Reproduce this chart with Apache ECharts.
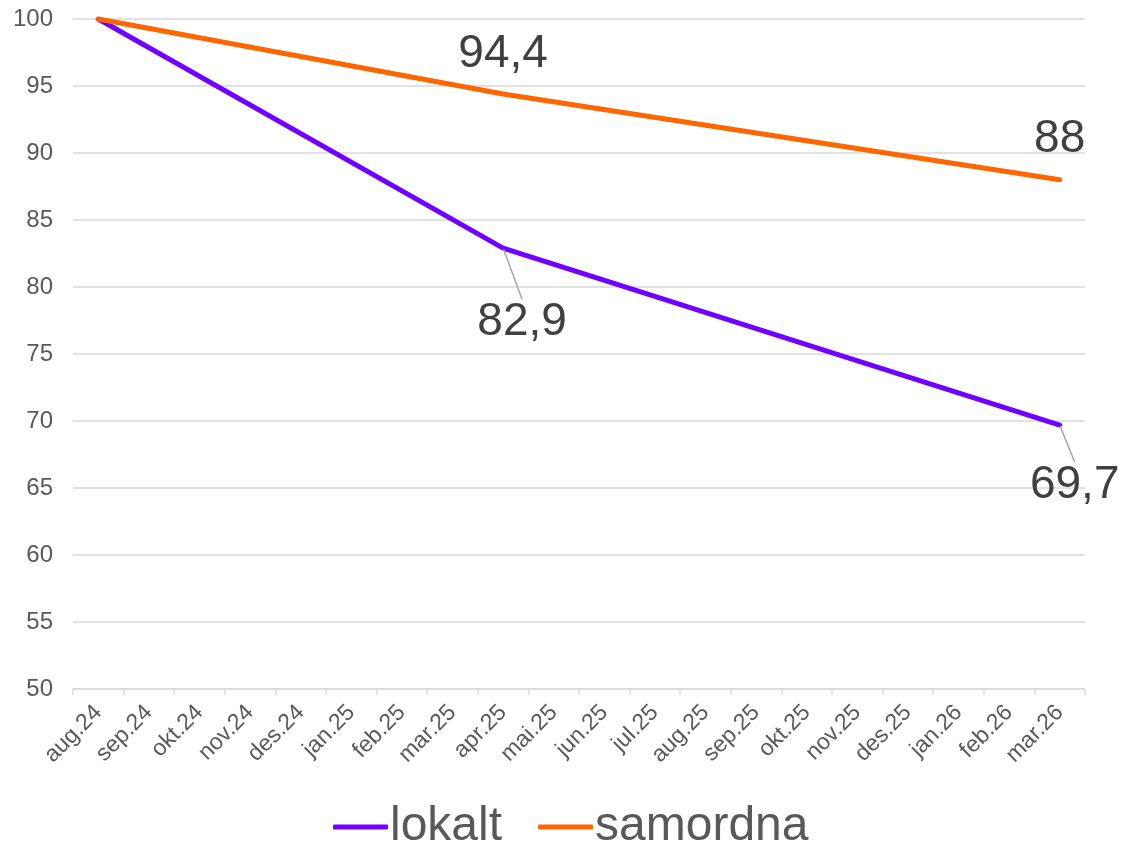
<!DOCTYPE html>
<html>
<head>
<meta charset="utf-8">
<script src="https://cdn.jsdelivr.net/npm/echarts@6/dist/echarts.min.js"></script>
<style>
  html, body { margin: 0; padding: 0; background: #fff; }
  #chart { width: 1122px; height: 850px; }
</style>
</head>
<body>
<div id="chart"></div>
<script>
    // kategorier (måneder)
    var months = ['aug.24', 'sep.24', 'okt.24', 'nov.24', 'des.24', 'jan.25', 'feb.25', 'mar.25', 'apr.25', 'mai.25',
        'jun.25', 'jul.25', 'aug.25', 'sep.25', 'okt.25', 'nov.25', 'des.25', 'jan.26', 'feb.26', 'mar.26'];
    // verdier, null der det ikke er punkt
    var lokalt = [100, null, null, null, null, null, null, null, 82.9, null,
        null, null, null, null, null, null, null, null, null, 69.7];
    var samordna = [100, null, null, null, null, null, null, null, 94.4, null,
        null, null, null, null, null, null, null, null, null, 88];
    var yTicks = [50, 55, 60, 65, 70, 75, 80, 85, 90, 95, 100];
    // hvilke punkter som får dataetikett
    var labelled = [8, 19];

    var fontName = '"Liberation Sans", Arial, sans-serif';

    function toItems(values) {
        return values.map(function (v, i) {
            if (v !== null && labelled.indexOf(i) !== -1) {
                return {value: v, label: {show: true}};
            }
            return v;
        });
    }

    function fmt(p) {
        return String(p.value).replace('.', ',');
    }

    var myChart = echarts.init(document.getElementById('chart'));
    myChart.setOption({
        animation: false,
        textStyle: {fontFamily: fontName},
        grid: {
            left: 73,
            right: 37,
            top: 19,
            bottom: 161
        },
        legend: {
            data: ['lokalt', 'samordna'],
            top: 798,
            left: 328,
            icon: 'roundRect',
            itemWidth: 55,
            itemHeight: 5,
            itemGap: 36,
            textStyle: {
                color: '#595959',
                fontSize: 48,
                fontFamily: fontName,
                padding: [0, 0, 0, -3]
            }
        },
        xAxis: {
            type: 'category',
            data: months,
            boundaryGap: true,
            axisLine: {lineStyle: {color: '#d9d9d9', width: 1.5}},
            axisTick: {show: true, length: 6, lineStyle: {color: '#d9d9d9', width: 1.5}},
            axisLabel: {
                interval: 0,
                rotate: 45,
                color: '#595959',
                fontSize: 23,
                margin: 20
            }
        },
        yAxis: {
            type: 'value',
            min: yTicks[0],
            max: yTicks[yTicks.length - 1],
            interval: 5,
            axisLine: {show: false},
            axisTick: {show: false},
            axisLabel: {
                color: '#595959',
                fontSize: 24,
                margin: 20
            },
            splitLine: {lineStyle: {color: '#d9d9d9', width: 1.5}}
        },
        series: [{
            name: 'lokalt',
            type: 'line',
            data: toItems(lokalt),
            connectNulls: true,
            symbol: 'circle',
            symbolSize: 2,
            showAllSymbol: true,
            color: '#7000ff',
            lineStyle: {width: 5, color: '#7000ff', cap: 'round', join: 'round'},
            label: {
                show: false,
                position: 'bottom',
                distance: 0,
                color: '#404040',
                fontSize: 46,
                formatter: fmt
            },
            labelLine: {show: true, lineStyle: {color: '#a6a6a6', width: 1.5}},
            labelLayout: function (params) {
                if (params.dataIndex === 8) return {dx: 19, dy: 50};
                if (params.dataIndex === 19) return {dx: 15, dy: 36};
                return {};
            }
        }, {
            name: 'samordna',
            type: 'line',
            data: toItems(samordna),
            connectNulls: true,
            symbol: 'circle',
            symbolSize: 2,
            showAllSymbol: true,
            color: '#ff6600',
            lineStyle: {width: 5, color: '#ff6600', cap: 'round', join: 'round'},
            label: {
                show: false,
                position: 'top',
                distance: 16,
                color: '#404040',
                fontSize: 46,
                formatter: fmt
            },
            labelLine: {show: false}
        }]
    });
</script>
</body>
</html>
